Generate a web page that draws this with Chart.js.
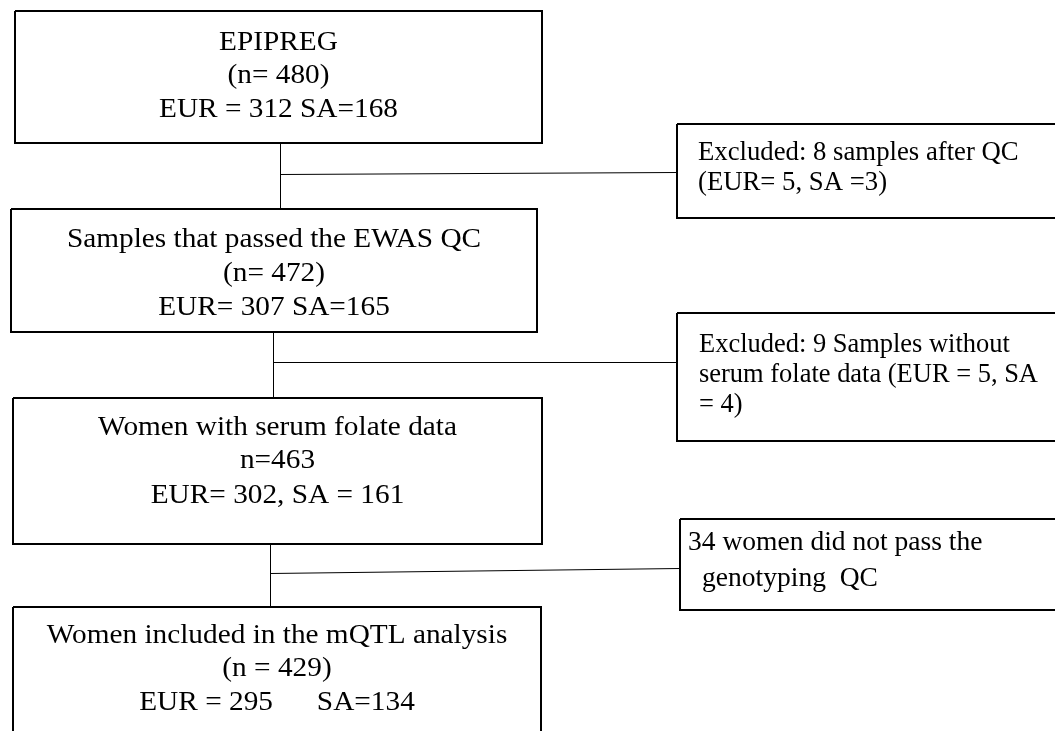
<!DOCTYPE html>
<html>
<head>
<meta charset="utf-8">
<script src="https://cdn.jsdelivr.net/npm/chart.js@4.4.0/dist/chart.umd.min.js"></script>
<style>
  html, body { margin: 0; padding: 0; background: #fff; }
  #wrap { width: 1055px; height: 731px; }
</style>
</head>
<body>
<div id="wrap"><canvas id="flow"></canvas></div>
<script>
// flow steps (main column) and exclusions (side column)
const stepLines = [
    ['EPIPREG', '(n= 480)', 'EUR = 312 SA=168'],
    ['Samples that passed the EWAS QC', '(n= 472)', 'EUR= 307 SA=165'],
    ['Women with serum folate data', 'n=463', 'EUR= 302, SA = 161'],
    ['Women included in the mQTL analysis', '(n = 429)', 'EUR = 295      SA=134']
];
const exclLines = [
    ['Excluded: 8 samples after QC', '(EUR= 5, SA =3)'],
    ['Excluded: 9 Samples without', 'serum folate data (EUR = 5, SA', '= 4)'],
    ['34 women did not pass the', 'genotyping  QC']
];

// layout, in page units (x 0..1055, y 0..731 from top)
const stepLeft   = [15, 11, 13, 13];
const stepRight  = [542, 537, 542, 541];
const stepTop    = [11, 209, 398, 607];
const stepBottom = [143, 332, 544, 745];
const stepBase   = [[50, 83, 117], [247, 281, 315], [435, 468, 503], [643, 676, 710]];

const exclLeft   = [677, 677, 680];
const exclTop    = [124, 313, 519];
const exclBottom = [218, 441, 610];
const exclX      = [[698, 698], [699, 699, 699], [688, 702]];
const exclBase   = [[160, 190], [352, 382, 412], [550, 586]];

const trunkX   = [280.5, 273.5, 270.5];
const branchY  = [[174.5, 172.5], [362.5, 362.5], [573.5, 568.5]];

// horizontal stretch of the serif text, per column
const stepStretch = 1.085;
const exclStretch = [0.99, 0.98, 1.02];

function rect(l, t, r, b) {
    return [{x: l, y: t}, {x: r, y: t}, {x: r, y: b}, {x: l, y: b}, {x: l, y: t}];
}

const datasets = [];
stepLines.forEach((_, i) => {
    datasets.push({ data: rect(stepLeft[i], stepTop[i], stepRight[i], stepBottom[i]), borderWidth: 2 });
});
exclLines.forEach((_, i) => {
    datasets.push({ data: rect(exclLeft[i], exclTop[i], 1070, exclBottom[i]), borderWidth: 2 });
});
trunkX.forEach((x, i) => {
    datasets.push({ data: [{x: x, y: stepBottom[i]}, {x: x, y: stepTop[i + 1]}], borderWidth: 1 });
    datasets.push({ data: [{x: x, y: branchY[i][0]}, {x: exclLeft[i], y: branchY[i][1]}], borderWidth: 1 });
});
datasets.forEach(d => {
    d.showLine = true;
    d.borderColor = '#000';
    d.pointRadius = 0;
    d.fill = false;
    d.tension = 0;
});

function drawText(c, t, x, y, stretch, align) {
    c.save();
    c.translate(x, y);
    c.scale(stretch, 1);
    c.textAlign = align;
    c.fillText(t, 0, 0);
    c.restore();
}

const textPlugin = {
    id: 'boxText',
    afterDatasetsDraw(chart) {
        const c = chart.ctx;
        const sx = chart.scales.x, sy = chart.scales.y;
        c.save();
        c.fillStyle = '#000';
        c.font = '27px "Liberation Serif", "Times New Roman", serif';
        c.textBaseline = 'alphabetic';
        stepLines.forEach((lines, i) => {
            const cx = sx.getPixelForValue((stepLeft[i] + stepRight[i]) / 2);
            lines.forEach((t, j) => drawText(c, t, cx, sy.getPixelForValue(stepBase[i][j]), stepStretch, 'center'));
        });
        exclLines.forEach((lines, i) => {
            lines.forEach((t, j) => drawText(c, t, sx.getPixelForValue(exclX[i][j]), sy.getPixelForValue(exclBase[i][j]), exclStretch[i], 'left'));
        });
        c.restore();
    }
};

new Chart(document.getElementById('flow').getContext('2d'), {
    type: 'scatter',
    data: { datasets: datasets },
    options: {
        responsive: true,
        maintainAspectRatio: false,
        animation: false,
        layout: { padding: 0 },
        plugins: { legend: { display: false }, tooltip: { enabled: false } },
        scales: {
            x: { type: 'linear', min: 0, max: 1055, display: false },
            y: { type: 'linear', min: 0, max: 731, reverse: true, display: false }
        }
    },
    plugins: [textPlugin]
});
</script>
</body>
</html>
